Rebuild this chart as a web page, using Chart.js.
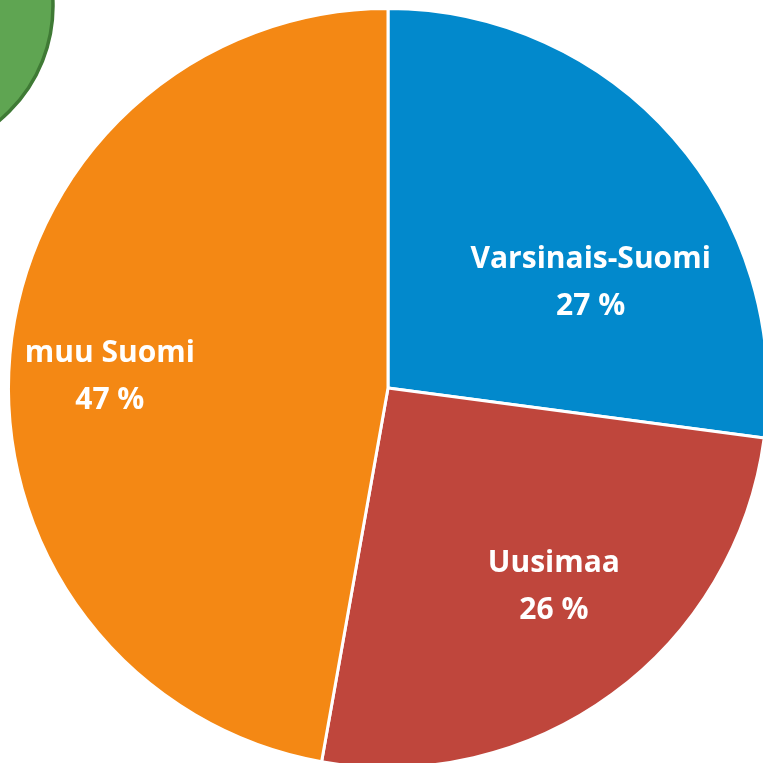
<!DOCTYPE html>
<html>
<head>
<meta charset="utf-8">
<script src="https://cdn.jsdelivr.net/npm/chart.js@4/dist/chart.umd.min.js"></script>
<style>
html,body{margin:0;padding:0;background:#fff;overflow:hidden;width:763px;height:763px;}
#wrap{position:absolute;left:0;top:0;width:776px;height:776px;}
</style>
</head>
<body>
<div id="wrap"><canvas id="c" width="776" height="776"></canvas></div>
<script>
const categories = ["Varsinais-Suomi", "Uusimaa", "muu Suomi"];
const values = [27.1, 25.7, 47.2];
const colors = ["#0289CC", "#BF463C", "#F48814"];
// label anchor as fraction of radius (x, y) relative to pie centre
const labelOffsets = [[0.534, -0.315], [0.437, 0.484], [-0.733, -0.069]];

const decoPlugin = {
  id: 'deco',
  beforeDraw(chart) {
    const ctx = chart.ctx;
    ctx.save();
    ctx.beginPath();
    ctx.arc(-96, 6, 149, 0, Math.PI * 2);
    ctx.fillStyle = '#5FA552';
    ctx.fill();
    ctx.lineWidth = 3.5;
    ctx.strokeStyle = '#3F7A35';
    ctx.stroke();
    ctx.restore();
  }
};

const labelPlugin = {
  id: 'sliceLabels',
  afterDatasetsDraw(chart) {
    const ctx = chart.ctx;
    const meta = chart.getDatasetMeta(0);
    const total = values.reduce((a, b) => a + b, 0);
    ctx.save();
    ctx.fillStyle = '#fff';
    ctx.textAlign = 'center';
    ctx.textBaseline = 'alphabetic';
    ctx.font = 'bold 30px "Open Sans"';
    meta.data.forEach((arc, i) => {
      const R = arc.outerRadius;
      const x = arc.x + labelOffsets[i][0] * R;
      const y = arc.y + labelOffsets[i][1] * R;
      ctx.fillText(categories[i], x, y);
      ctx.fillText(Math.round(values[i] / total * 100) + ' %', x, y + 47);
    });
    ctx.restore();
  }
};

new Chart(document.getElementById('c'), {
  type: 'pie',
  data: {
    labels: categories,
    datasets: [{
      data: values,
      backgroundColor: colors,
      borderColor: '#ffffff',
      borderWidth: 3
    }]
  },
  options: {
    responsive: false,
    animation: false,
    layout: { padding: 7 },
    plugins: { legend: { display: false }, tooltip: { enabled: false } }
  },
  plugins: [decoPlugin, labelPlugin]
});
</script>
</body>
</html>
